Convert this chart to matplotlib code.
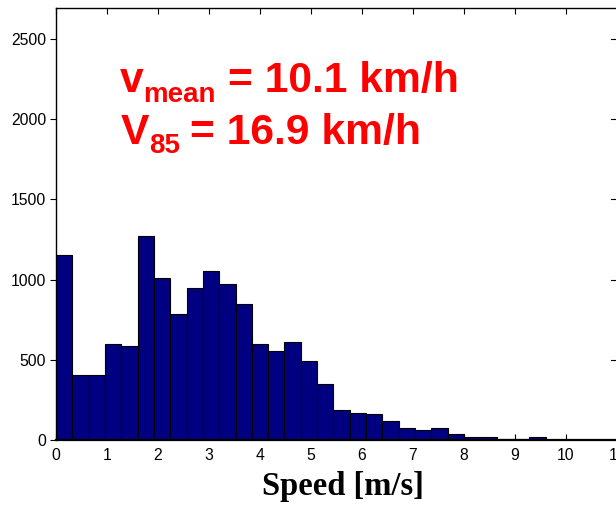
import numpy as np
import matplotlib
matplotlib.use("Agg")
import matplotlib.pyplot as plt

# Histogram of measured speeds: 30 equal-width bins between 0 and 9.6 m/s
bin_start = 0.0
bin_end = 9.6
counts = [1153, 404, 404, 599, 586, 1270, 1009, 785, 947, 1050,
          971, 847, 599, 553, 609, 491, 346, 184, 170, 162,
          120, 73, 64, 73, 35, 19, 19, 9, 9, 19]
x_ticks = list(range(0, 12))
y_ticks = [0, 500, 1000, 1500, 2000, 2500]
x_label = "Speed [m/s]"
mean_text = ("v", "mean", "= 10.1 km/h")
v85_text = ("V", "85", "= 16.9 km/h")

W, H, DPI = 616, 515, 100
fig = plt.figure(figsize=(W / DPI, H / DPI), dpi=DPI)
fig.patch.set_facecolor("white")

left, bottom, right, top = 56, 440, 617, 8.3
ax = fig.add_axes([left / W, 1 - bottom / H, (right - left) / W, (bottom - top) / H])

edges = np.linspace(bin_start, bin_end, len(counts) + 1)
widths = np.diff(edges)
ax.bar(edges[:-1], counts, width=widths, align="edge",
       color="#000080", edgecolor="black", linewidth=0.8, zorder=2)

ax.set_xlim(0, 11)
ax.set_ylim(0, 2690)
ax.set_xticks(x_ticks)
ax.set_yticks(y_ticks)

tick_font = {"family": "Liberation Sans", "size": 11.3}
ax.set_xticklabels([str(t) for t in x_ticks], **tick_font)
ax.set_yticklabels([str(t) for t in y_ticks], **tick_font)

ax.tick_params(axis="x", which="both", direction="in", top=True, bottom=True,
               length=4, width=0.8, pad=5.5, colors="black")
ax.tick_params(axis="y", which="both", direction="out", left=True, right=False,
               length=4.5, width=0.8, pad=2.5, colors="black")
# inward ticks on the right side
for yt in y_ticks[1:]:
    ax.plot([11 - 0.12, 11], [yt, yt], color="black", lw=0.8, clip_on=False, zorder=3)

for s in ax.spines.values():
    s.set_linewidth(1.0)
    s.set_color("black")
ax.spines["bottom"].set_linewidth(1.6)
ax.spines["bottom"].set_zorder(3)

ax.set_xlabel(x_label, family="Liberation Serif", weight="bold", size=23.5, va="baseline")
ax.xaxis.set_label_coords((342.5 - left) / (right - left), (bottom - 495) / (bottom - top))


def ptext(px, py, s, size):
    fig.text(px / W, 1 - py / H, s, color="#ff0000", family="Liberation Sans",
             weight="bold", size=size, va="baseline", ha="left")


main_size, sub_size = 30.7, 20
ptext(120, 91.7, mean_text[0], main_size)
ptext(143, 102.3, mean_text[1], sub_size)
ptext(227.5, 91.7, mean_text[2], main_size)

ptext(121, 144.3, v85_text[0], main_size)
ptext(149.5, 153.3, v85_text[1], sub_size)
ptext(190, 144.3, v85_text[2], main_size)

fig.savefig("out.png", dpi=DPI, facecolor="white")
